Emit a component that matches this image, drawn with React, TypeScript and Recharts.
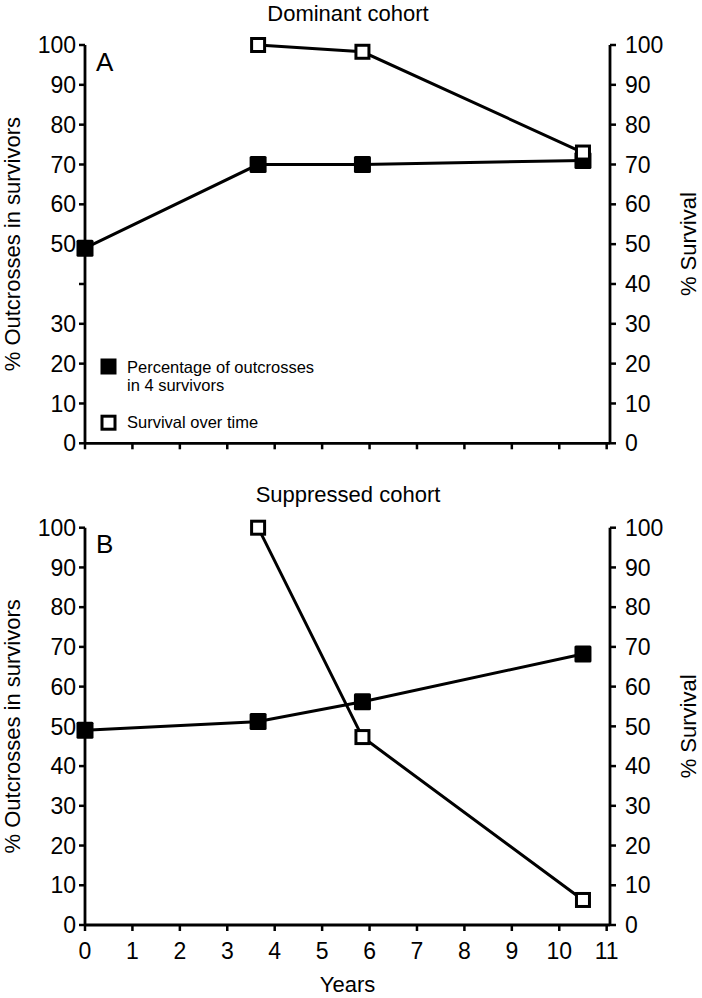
import React from 'react';
import { LineChart, Line, XAxis, YAxis, Legend, Label } from 'recharts';

// ---- data ----
const years = [0, 3.65, 5.85, 10.5];
const dominantOutcross = [49, 70, 70, 71];
const dominantSurvival = [null, 100, 98.3, 73];
const suppressedOutcross = [49, 51.2, 56.2, 68.2];
const suppressedSurvival = [null, 100, 47.3, 6.3];

const xTicks = [0, 1, 2, 3, 4, 5, 6, 7, 8, 9, 10, 11];
const yTicks = [0, 10, 20, 30, 40, 50, 60, 70, 80, 90, 100];
const dominantHiddenLeftTicks = [40];

const panelTitles = ['Dominant cohort', 'Suppressed cohort'];
const panelLetters = ['A', 'B'];
const outcrossLegend = ['Percentage of outcrosses', 'in 4 survivors'];
const survivalLegend = 'Survival over time';
const leftAxisTitle = '% Outcrosses in survivors';
const rightAxisTitle = '% Survival';
const xAxisTitle = 'Years';

const FONT = '"Liberation Sans", Arial, Helvetica, sans-serif';

const buildRows = (outcross: (number | null)[], survival: (number | null)[]) =>
  years.map((y, i) => ({ year: y, outcross: outcross[i], survival: survival[i] }));

const dominantRows = buildRows(dominantOutcross, dominantSurvival);
const suppressedRows = buildRows(suppressedOutcross, suppressedSurvival);

const FilledSquare = (props: any) => {
  const { cx, cy, value } = props;
  if (cx == null || cy == null || value == null || isNaN(cy)) return <g key={props.key} />;
  return <rect key={props.key} x={cx - 8.5} y={cy - 8.5} width={17} height={17} rx={1.5} fill="#000" />;
};

const OpenSquare = (props: any) => {
  const { cx, cy, value } = props;
  if (cx == null || cy == null || value == null || isNaN(cy)) return <g key={props.key} />;
  return (
    <rect key={props.key} x={cx - 6.5} y={cy - 6.5} width={13} height={13} fill="#fff" stroke="#000" strokeWidth={3} />
  );
};

const verticalTitle = (text: string, x: number) => (props: any) => {
  const vb = props.viewBox || { y: 0, height: 0 };
  const cy = vb.y + vb.height / 2;
  return (
    <text
      x={x}
      y={cy}
      transform={`rotate(-90, ${x}, ${cy})`}
      textAnchor="middle"
      dominantBaseline="central"
      fill="#000"
      fontSize={22}
      fontFamily={FONT}
    >
      {text}
    </text>
  );
};

const LegendContent = () => (
  <svg width={260} height={90} style={{ display: 'block' }}>
    <rect x={5.5} y={8.5} width={16} height={16} fill="#000" />
    <text x={32} y={22.7} fontSize={16.5} fontFamily={FONT} fill="#000">
      {outcrossLegend[0]}
    </text>
    <text x={32} y={41} fontSize={16.5} fontFamily={FONT} fill="#000">
      {outcrossLegend[1]}
    </text>
    <rect x={7} y={66.2} width={13} height={13} fill="#fff" stroke="#000" strokeWidth={3} />
    <text x={32} y={78.3} fontSize={16.5} fontFamily={FONT} fill="#000">
      {survivalLegend}
    </text>
  </svg>
);

const axisStyle = {
  axisLine: { stroke: '#000', strokeWidth: 2.8 },
  tickLine: { stroke: '#000', strokeWidth: 2.5 },
  tick: { fill: '#000', fontSize: 23, fontFamily: FONT },
};

type PanelProps = {
  rows: any[];
  height: number;
  marginTop: number;
  marginBottom: number;
  xAxisHeight: number;
  showXLabels: boolean;
  hiddenLeft: number[];
  withLegend: boolean;
};

const Panel = ({ rows, height, marginTop, marginBottom, xAxisHeight, showXLabels, hiddenLeft, withLegend }: PanelProps) => (
  <LineChart
    width={702}
    height={height}
    data={rows}
    margin={{ top: marginTop, right: 0, bottom: marginBottom, left: 0 }}
    style={{ fontFamily: FONT }}
  >
    <XAxis
      dataKey="year"
      type="number"
      domain={[0, 11.07]}
      ticks={xTicks}
      interval={0}
      height={xAxisHeight}
      tickSize={6}
      tickMargin={12}
      tickFormatter={(v: number) => (showXLabels ? String(v) : '')}
      {...axisStyle}
    >
      {showXLabels && (
        <Label value={xAxisTitle} position="insideBottom" offset={6} fill="#000" fontSize={22} fontFamily={FONT} />
      )}
    </XAxis>
    <YAxis
      yAxisId="left"
      orientation="left"
      width={85}
      domain={[0, 100]}
      ticks={yTicks}
      interval={0}
      tickSize={6}
      tickMargin={3}
      tickFormatter={(v: number) => (hiddenLeft.includes(v) ? '' : String(v))}
      {...axisStyle}
    >
      <Label content={verticalTitle(leftAxisTitle, 13)} />
    </YAxis>
    <YAxis
      yAxisId="right"
      orientation="right"
      width={92}
      domain={[0, 100]}
      ticks={yTicks}
      interval={0}
      tickSize={6}
      tickMargin={9}
      {...axisStyle}
    >
      <Label content={verticalTitle(rightAxisTitle, 689)} />
    </YAxis>
    {withLegend && (
      <Legend
        layout="vertical"
        align="center"
        verticalAlign="middle"
        wrapperStyle={{ left: 95, top: 350, width: 260, height: 90 }}
        content={LegendContent}
      />
    )}
    <Line
      yAxisId="left"
      dataKey="outcross"
      name="Percentage of outcrosses in 4 survivors"
      stroke="#000"
      strokeWidth={3}
      type="linear"
      dot={FilledSquare}
      activeDot={false}
      isAnimationActive={false}
    />
    <Line
      yAxisId="right"
      dataKey="survival"
      name="Survival over time"
      stroke="#000"
      strokeWidth={3}
      type="linear"
      dot={OpenSquare}
      activeDot={false}
      isAnimationActive={false}
    />
  </LineChart>
);

export default function App() {
  return (
    <div style={{ position: 'absolute', left: 0, top: 0, width: 702, height: 998, background: '#fff', fontFamily: FONT }}>
      <div style={{ position: 'absolute', left: 0, top: 0 }}>
        <Panel
          rows={dominantRows}
          height={480}
          marginTop={45}
          marginBottom={16.7}
          xAxisHeight={20}
          showXLabels={false}
          hiddenLeft={dominantHiddenLeftTicks}
          withLegend={true}
        />
      </div>
      <div style={{ position: 'absolute', left: 0, top: 480 }}>
        <Panel
          rows={suppressedRows}
          height={518}
          marginTop={47.7}
          marginBottom={0}
          xAxisHeight={73}
          showXLabels={true}
          hiddenLeft={[]}
          withLegend={false}
        />
      </div>
      <svg
        width={702}
        height={998}
        style={{ position: 'absolute', left: 0, top: 0, pointerEvents: 'none' }}
      >
        <text x={348} y={21} textAnchor="middle" fontSize={22} fontFamily={FONT} fill="#000">
          {panelTitles[0]}
        </text>
        <text x={348} y={502} textAnchor="middle" fontSize={22} fontFamily={FONT} fill="#000">
          {panelTitles[1]}
        </text>
        <text x={96} y={71} fontSize={26} fontFamily={FONT} fill="#000">
          {panelLetters[0]}
        </text>
        <text x={96} y={553} fontSize={26} fontFamily={FONT} fill="#000">
          {panelLetters[1]}
        </text>
      </svg>
    </div>
  );
}
